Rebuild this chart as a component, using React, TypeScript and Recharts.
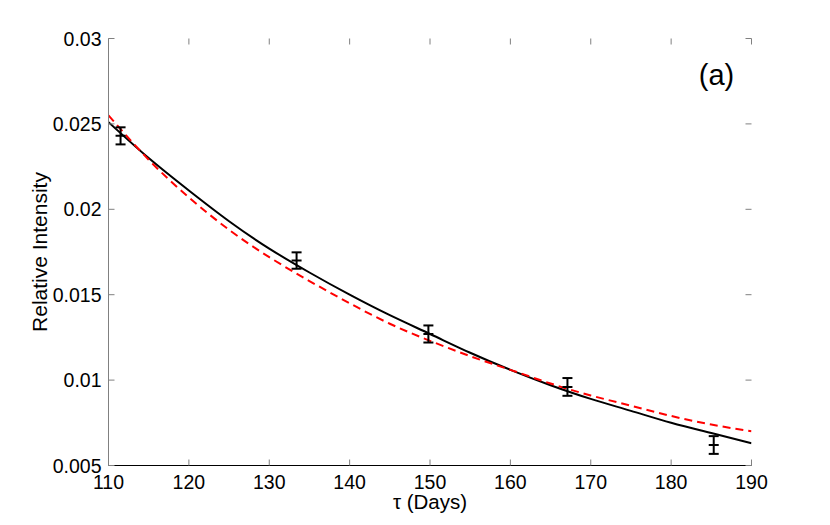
import React from 'react';
import { ComposedChart, Line, Scatter, ErrorBar, XAxis, YAxis, Label } from 'recharts';

const FONT = '"Liberation Sans", Arial, Helvetica, sans-serif';

// curve sample positions (days)
const curveTau = [110, 115, 120, 125, 130, 135, 140, 145, 150, 155, 160, 165, 170, 175, 180, 185, 190];
// solid black fit
const solidFit = [0.0251, 0.0230, 0.0211, 0.0193, 0.0177, 0.0163, 0.0150, 0.0138, 0.0127, 0.0116, 0.0106, 0.0097, 0.0089, 0.0082, 0.0075, 0.0069, 0.0063];
// red dashed fit
const dashedFit = [0.0255, 0.0229, 0.0207, 0.0188, 0.0172, 0.0158, 0.0145, 0.0133, 0.0123, 0.0114, 0.0106, 0.0098, 0.0091, 0.0085, 0.0079, 0.0074, 0.0070];

// measured points
const pointTau = [111.5, 133.4, 149.8, 167.1, 185.3];
const pointValue = [0.0243, 0.0170, 0.0127, 0.0096, 0.0062];
const pointErr = [0.0005, 0.00048, 0.0005, 0.00052, 0.00052];

const xTicks = [110, 120, 130, 140, 150, 160, 170, 180, 190];
const yTicks = [0.005, 0.01, 0.015, 0.02, 0.025, 0.03];
const yTickLabels = ['0.005', '0.01', '0.015', '0.02', '0.025', '0.03'];

const curveRows = curveTau.map((t, i) => ({ tau: t, solid: solidFit[i], dashed: dashedFit[i] }));
const pointRows = pointTau.map((t, i) => ({ tau: t, value: pointValue[i], err: pointErr[i] }));

const W = 830;
const H = 525;
const MARGIN = { top: 38.5, right: 78.5, bottom: 0.5, left: 0.5 };
const Y_AXIS_W = 108;
const X_AXIS_H = 59;
const PLOT_TOP = MARGIN.top;
const PLOT_RIGHT = W - MARGIN.right;

const TICK_COLOR = '#808080';
const TICK_LEN = 6;

const BottomTick = (props: any) => {
  const { x, y, payload } = props;
  return (
    <g>
      <line x1={x} y1={y} x2={x} y2={y - TICK_LEN} stroke={TICK_COLOR} strokeWidth={1} />
      <line x1={x} y1={PLOT_TOP} x2={x} y2={PLOT_TOP + TICK_LEN} stroke={TICK_COLOR} strokeWidth={1} />
      <text x={x} y={y + 23.5} textAnchor="middle" fontSize={19.5} fontFamily={FONT} fill="#000">
        {payload.value}
      </text>
    </g>
  );
};

const LeftTick = (props: any) => {
  const { x, y, payload } = props;
  const idx = yTicks.findIndex((v) => Math.abs(v - payload.value) < 1e-9);
  const lbl = idx >= 0 ? yTickLabels[idx] : String(payload.value);
  return (
    <g>
      <line x1={x} y1={y} x2={x + TICK_LEN} y2={y} stroke={TICK_COLOR} strokeWidth={1} />
      <line x1={PLOT_RIGHT} y1={y} x2={PLOT_RIGHT - TICK_LEN} y2={y} stroke={TICK_COLOR} strokeWidth={1} />
      <text x={x - 7} y={y + 7} textAnchor="end" fontSize={19.5} fontFamily={FONT} fill="#000">
        {lbl}
      </text>
    </g>
  );
};

const NoTick = () => <g />;

const CenterDash = (props: any) => {
  const { cx, cy } = props;
  if (cx == null || cy == null) return null;
  return <line x1={cx - 5} y1={cy} x2={cx + 5} y2={cy} stroke="#000" strokeWidth={2} />;
};

const XLabel = (props: any) => {
  const vb = props.viewBox || {};
  return (
    <text x={vb.x + vb.width / 2} y={vb.y + 43.5} textAnchor="middle" fontSize={20.5} fontFamily={FONT} fill="#000">
      τ (Days)
    </text>
  );
};

const YLabel = (props: any) => {
  const vb = props.viewBox || {};
  const cx = vb.x + 46;
  const cy = vb.y + vb.height / 2;
  return (
    <text x={cx} y={cy} transform={`rotate(-90 ${cx} ${cy})`} textAnchor="middle" fontSize={21} fontFamily={FONT} fill="#000">
      Relative Intensity
    </text>
  );
};

export default function App() {
  return (
    <div style={{ position: 'absolute', left: 0, top: 0, width: W, height: H, background: '#fff' }}>
      <ComposedChart width={W} height={H} data={curveRows} margin={MARGIN}>
        <XAxis
          xAxisId="b"
          dataKey="tau"
          type="number"
          domain={[110, 190]}
          ticks={xTicks}
          interval={0}
          allowDataOverflow
          height={X_AXIS_H}
          tickSize={0}
          tickMargin={0}
          tickLine={false}
          tick={BottomTick}
          axisLine={{ stroke: '#000', strokeWidth: 1 }}
        >
          <Label content={XLabel} />
        </XAxis>
        <XAxis
          xAxisId="t"
          orientation="top"
          dataKey="tau"
          type="number"
          domain={[110, 190]}
          ticks={xTicks}
          interval={0}
          allowDataOverflow
          height={0}
          tickSize={0}
          tickMargin={0}
          tickLine={false}
          tick={NoTick}
          axisLine={{ stroke: TICK_COLOR, strokeWidth: 1 }}
        />
        <YAxis
          yAxisId="l"
          type="number"
          domain={[0.005, 0.03]}
          ticks={yTicks}
          interval={0}
          allowDataOverflow
          width={Y_AXIS_W}
          tickSize={0}
          tickMargin={0}
          tickLine={false}
          tick={LeftTick}
          axisLine={{ stroke: TICK_COLOR, strokeWidth: 1 }}
        >
          <Label content={YLabel} />
        </YAxis>
        <YAxis
          yAxisId="r"
          orientation="right"
          type="number"
          domain={[0.005, 0.03]}
          ticks={yTicks}
          interval={0}
          allowDataOverflow
          width={0}
          tickSize={0}
          tickMargin={0}
          tickLine={false}
          tick={NoTick}
          axisLine={{ stroke: '#000', strokeWidth: 1 }}
        />
        <Line
          xAxisId="b"
          yAxisId="l"
          type="natural"
          dataKey="solid"
          stroke="#000"
          strokeWidth={2}
          dot={false}
          activeDot={false}
          isAnimationActive={false}
        />
        <Line
          xAxisId="b"
          yAxisId="l"
          type="natural"
          dataKey="dashed"
          stroke="#ff0000"
          strokeWidth={2}
          strokeDasharray="8 5"
          dot={false}
          activeDot={false}
          isAnimationActive={false}
        />
        <Scatter
          xAxisId="b"
          yAxisId="l"
          data={pointRows}
          dataKey="value"
          shape={CenterDash}
          isAnimationActive={false}
        >
          <ErrorBar dataKey="err" direction="y" width={5} stroke="#000" strokeWidth={2} isAnimationActive={false} />
        </Scatter>
      </ComposedChart>
      <svg
        width={W}
        height={H}
        style={{ position: 'absolute', left: 0, top: 0, pointerEvents: 'none' }}
      >
        <text x={PLOT_RIGHT - 35} y={PLOT_TOP + 46} textAnchor="middle" fontSize={29} fontFamily={FONT} fill="#000">
          (a)
        </text>
      </svg>
    </div>
  );
}
